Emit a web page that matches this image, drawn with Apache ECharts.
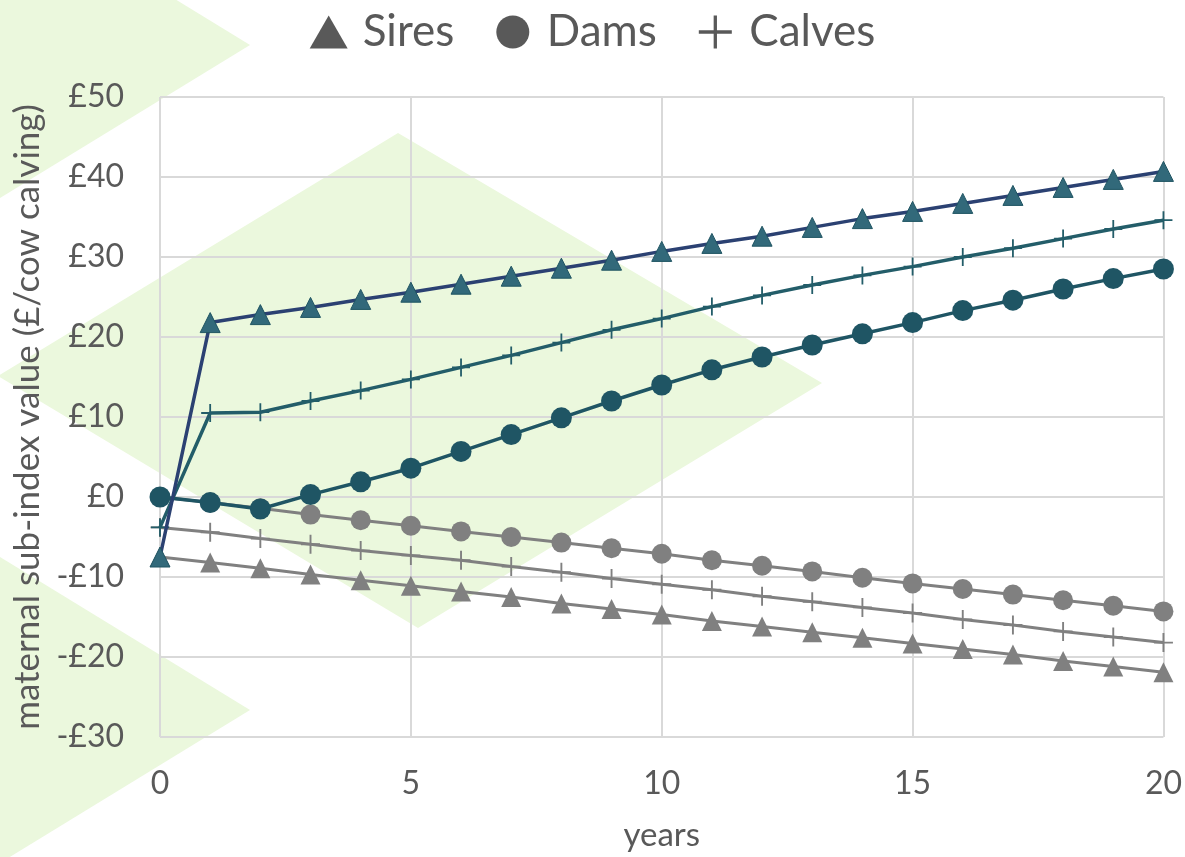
<!DOCTYPE html>
<html>
<head>
<meta charset="utf-8">
<script src="https://cdn.jsdelivr.net/npm/echarts@6/dist/echarts.min.js"></script>
<style>
  html, body { margin: 0; padding: 0; background: #ffffff; }
  #chart { width: 1185px; height: 857px; }
</style>
</head>
<body>
<div id="chart"></div>
<script>
// Years since the start of selection
const years = [0, 1, 2, 3, 4, 5, 6, 7, 8, 9, 10, 11, 12, 13, 14, 15, 16, 17, 18, 19, 20];

// Maternal sub-index value (£/cow calving) — selected on the maternal index
const siresSelected  = [-7.5, 21.8, 22.8, 23.7, 24.7, 25.6, 26.6, 27.6, 28.6, 29.6, 30.7, 31.7, 32.6, 33.7, 34.8, 35.7, 36.7, 37.7, 38.7, 39.7, 40.7];
const damsSelected   = [0, -0.7, -1.5, 0.3, 1.9, 3.6, 5.7, 7.8, 9.9, 12.0, 14.0, 15.9, 17.5, 19.0, 20.4, 21.8, 23.3, 24.6, 26.0, 27.3, 28.5];
const calvesSelected = [-3.8, 10.5, 10.6, 12.0, 13.3, 14.7, 16.2, 17.7, 19.3, 20.9, 22.3, 23.8, 25.2, 26.5, 27.7, 28.8, 30.0, 31.1, 32.3, 33.5, 34.6];

// Maternal sub-index value (£/cow calving) — comparison (grey)
const siresOther  = [-7.5, -8.2, -8.9, -9.7, -10.4, -11.1, -11.8, -12.5, -13.3, -14.0, -14.7, -15.5, -16.2, -16.9, -17.6, -18.3, -19.0, -19.7, -20.5, -21.2, -21.9];
const damsOther   = [0, -0.7, -1.4, -2.2, -2.9, -3.6, -4.3, -5.0, -5.7, -6.4, -7.1, -7.9, -8.6, -9.3, -10.1, -10.8, -11.5, -12.2, -12.9, -13.6, -14.3];
const calvesOther = [-3.8, -4.4, -5.2, -5.9, -6.7, -7.3, -7.9, -8.7, -9.4, -10.2, -10.9, -11.6, -12.4, -13.1, -13.8, -14.5, -15.3, -16.0, -16.8, -17.5, -18.2];

const legendNames = ['Sires', 'Dams', 'Calves'];

const FONT = 'Lato, "Open Sans", sans-serif';
const TEXT = '#595959';
const GREY = '#808080';
const PLUS = 'path://M9,0H11V9H20V11H11V20H9V11H0V9H9Z';

const pairs = vals => years.map((y, i) => [y, vals[i]]);

// Pale green chevrons behind the plot
const wash = '#ebf8dd';
const shapes = [
  [[0, -108], [250, 45], [0, 198]],
  [[-2, 376], [398, 133], [822, 383], [418, 628]],
  [[0, 557], [250, 710], [0, 863]]
];

function greySeries(name, vals, symbol, size) {
  return {
    name, type: 'line', data: pairs(vals), symbol, symbolSize: size,
    lineStyle: { color: GREY, width: 3 },
    itemStyle: { color: GREY, borderWidth: 0 },
    z: 2, emphasis: { disabled: true }
  };
}

const chart = echarts.init(document.getElementById('chart'), null, { renderer: 'canvas' });
chart.setOption({
  backgroundColor: '#ffffff',
  animation: false,
  textStyle: { fontFamily: FONT },
  graphic: shapes.map(pts => ({
    type: 'polygon', z: -10, silent: true,
    shape: { points: pts },
    style: { fill: wash }
  })),
  legend: {
    top: 5, left: 'center',
    selectedMode: false,
    itemWidth: 38, itemHeight: 33, itemGap: 42,
    textStyle: { fontFamily: FONT, fontSize: 44, color: TEXT, padding: [0, 0, 0, 10] },
    data: [
      { name: legendNames[0], icon: 'triangle', itemStyle: { color: TEXT, borderWidth: 0 } },
      { name: legendNames[1], icon: 'circle', itemStyle: { color: TEXT, borderWidth: 0 } },
      { name: legendNames[2], icon: PLUS, itemStyle: { color: TEXT, borderWidth: 0 } }
    ]
  },
  grid: { left: 160, right: 19, top: 97, bottom: 120 },
  xAxis: {
    type: 'value', min: 0, max: 20, interval: 5,
    name: 'years', nameLocation: 'middle', nameGap: 82,
    nameTextStyle: { fontFamily: FONT, fontSize: 33, color: TEXT },
    axisLine: { show: false },
    axisTick: { show: false },
    axisLabel: { fontFamily: FONT, fontSize: 32, color: TEXT, margin: 31 },
    splitLine: { show: true, lineStyle: { color: '#d9d9d9', width: 2 } }
  },
  yAxis: {
    type: 'value', min: -30, max: 50, interval: 10,
    name: 'maternal sub-index value (£/cow calving)', nameLocation: 'middle', nameGap: 102,
    nameTextStyle: { fontFamily: FONT, fontSize: 35, color: TEXT },
    axisLine: { show: false },
    axisTick: { show: false },
    axisLabel: {
      fontFamily: FONT, fontSize: 32, color: TEXT, margin: 36,
      formatter: v => (v < 0 ? '-£' + Math.abs(v) : '£' + v)
    },
    splitLine: { show: true, lineStyle: { color: '#d9d9d9', width: 2 } }
  },
  series: [
    greySeries('Sires (comparison)', siresOther, 'triangle', 20),
    greySeries('Calves (comparison)', calvesOther, PLUS, 19),
    greySeries('Dams (comparison)', damsOther, 'circle', 20),
    {
      name: legendNames[2], type: 'line', data: pairs(calvesSelected),
      symbol: PLUS, symbolSize: 18,
      lineStyle: { color: '#235d69', width: 3.5 },
      itemStyle: { color: '#235d69', borderWidth: 0 },
      z: 3, emphasis: { disabled: true }
    },
    {
      name: legendNames[1], type: 'line', data: pairs(damsSelected),
      symbol: 'circle', symbolSize: 21,
      lineStyle: { color: '#1f5564', width: 3.5 },
      itemStyle: { color: '#1f5564', borderWidth: 0 },
      z: 4, emphasis: { disabled: true }
    },
    {
      name: legendNames[0], type: 'line', data: pairs(siresSelected),
      symbol: 'triangle', symbolSize: 20,
      lineStyle: { color: '#2b4172', width: 3.5 },
      itemStyle: { color: '#32697a', borderColor: '#1f5462', borderWidth: 1 },
      z: 5, emphasis: { disabled: true }
    }
  ]
});
</script>
</body>
</html>
